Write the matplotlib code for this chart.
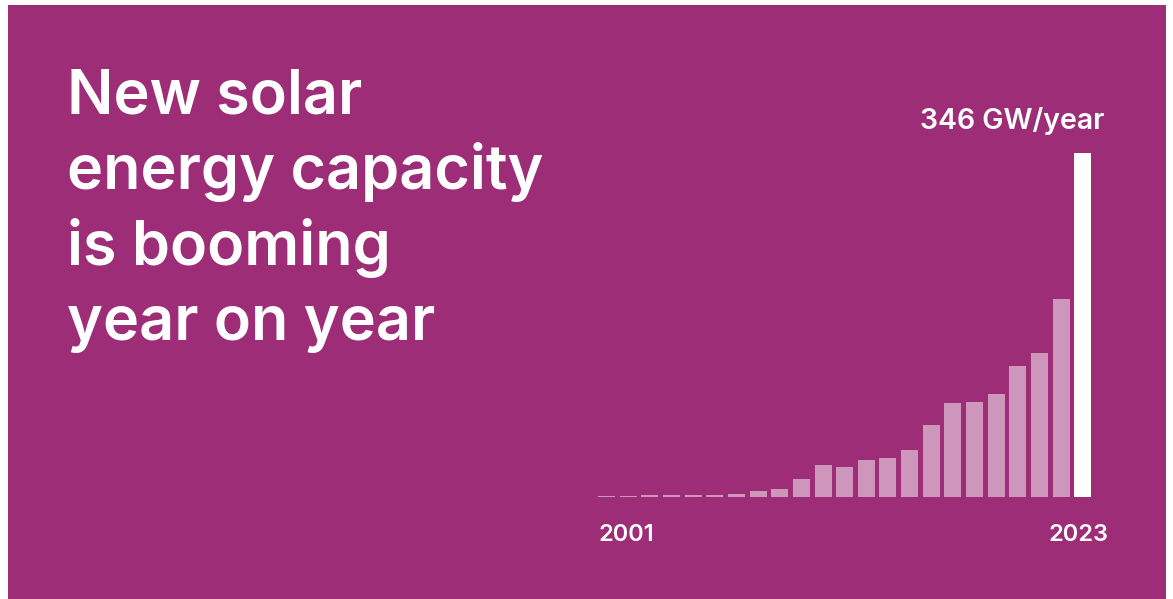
import matplotlib
matplotlib.use("Agg")
import matplotlib.pyplot as plt
from matplotlib.patches import Rectangle

# ---- data ----
years = list(range(2001, 2024))
capacity_gw = [0.7, 1.2, 1.3, 1.3, 1.5, 1.6, 2.4, 6, 7.7, 17.4, 32, 30, 36.5,
               39, 47, 72, 94.5, 95, 103, 132, 145, 199, 346]
title_lines = ["New solar", "energy capacity", "is booming", "year on year"]
value_label = "346 GW/year"
first_label = "2001"
last_label = "2023"

W, H = 1173, 599
BG = "#9d2d76"
fig = plt.figure(figsize=(W / 100, H / 100), dpi=100, facecolor="white")

def fx(px):
    return px / W

def fy(py_top):
    return 1 - py_top / H

# purple panel
fig.patches.append(Rectangle((fx(8), 0), fx(1166) - fx(8), fy(5), transform=fig.transFigure,
                             facecolor=BG, edgecolor="none", zorder=-10))

# bar axes
pitch = 21.65
bar_w = 17
left_px = 598 + bar_w / 2 - pitch / 2
base_top = 496.7
top_top = 153
ax = fig.add_axes([fx(left_px), fy(base_top), fx(pitch * len(years)), (base_top - top_top) / H])
ax.set_facecolor("none")
ax.set_zorder(5)
x = list(range(len(years)))
alphas = [0.5] * (len(years) - 1) + [1.0]
bars = ax.bar(x, capacity_gw, width=bar_w / pitch, color="white")
for b, a in zip(bars, alphas):
    b.set_alpha(a)
ax.set_xlim(-0.5, len(years) - 0.5)
ax.set_ylim(0, max(capacity_gw))
ax.axis("off")

font = "Inter"
wt = "semibold"
for i, line in enumerate(title_lines):
    base = [113, 189, 265, 340][i]
    fig.text(fx(67), fy(base), line, color="white", fontsize=44, fontfamily=font,
             fontweight=wt, ha="left", va="baseline")

fig.text(fx(1104), fy(129), value_label, color="white", fontsize=20.5, fontfamily=font,
         fontweight=wt, ha="right", va="baseline")
fig.text(fx(598), fy(541), first_label, color="white", fontsize=17, fontfamily=font,
         fontweight=wt, ha="left", va="baseline")
fig.text(fx(1108), fy(541), last_label, color="white", fontsize=17, fontfamily=font,
         fontweight=wt, ha="right", va="baseline")

fig.savefig("out.png", dpi=100, facecolor="white")
